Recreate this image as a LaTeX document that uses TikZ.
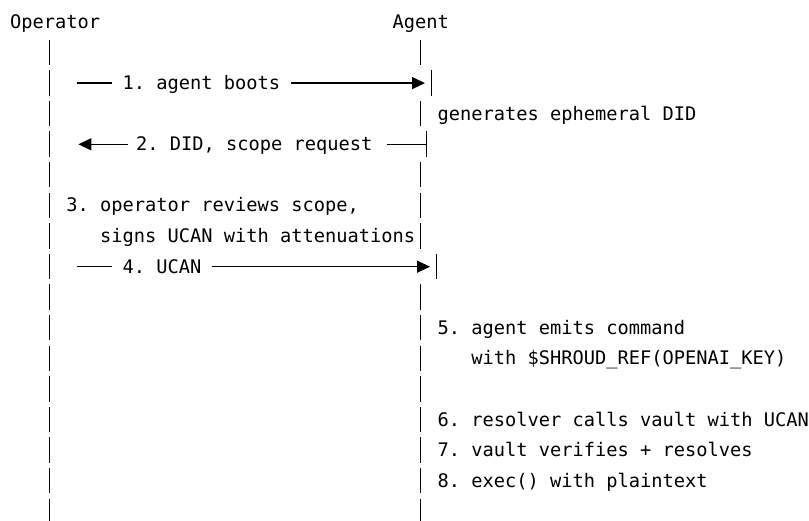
\documentclass[tikz,border=0pt]{standalone}
\usepackage{fontspec}
\newfontfamily\monofont{DejaVu Sans Mono}
\usetikzlibrary{arrows.meta}
\frenchspacing
\begin{document}
\begin{tikzpicture}[x=1pt,y=-1pt,
  lbl/.style={font=\monofont\fontsize{18.69}{22}\selectfont\frenchspacing, anchor=base west, inner sep=0pt, text=black},
  pipe/.style={line width=1.5pt, black},
  msgline/.style={line width=1.3pt, black},
  headR/.style={-{Triangle[length=13pt,width=12pt]}},
  headL/.style={{Triangle[length=13pt,width=12pt]}-}]
\useasboundingbox (0,0) rectangle (809,520);
% headers
\node[lbl] (op) at (9.9,28.3) {Operator};
\node[lbl] (ag) at (392.4,28.3) {Agent};
% lifelines (pipe characters)
\foreach \k in {1,...,16} {
  \pgfmathsetmacro\b{28.3+30.6*\k}
  \draw[pipe] (49.3,{\b-19.3}) -- (49.3,{\b+6});
}
\foreach \k in {1,3,5,6,7,9,10,11,12,13,14,15,16} {
  \pgfmathsetmacro\b{28.3+30.6*\k}
  \draw[pipe] (420.7,{\b-19.3}) -- (420.7,{\b+6});
}
\draw[pipe] (431.7,{89.5-19.3}) -- (431.7,{89.5+6});
\draw[pipe] (426.7,{150.7-19.3}) -- (426.7,{150.7+6});
\draw[pipe] (436.7,{273.1-19.3}) -- (436.7,{273.1+6});
% message 1
\node[lbl] (m1) at (122.4,89.5) {1. agent boots};
\coordinate (m1s) at (76.7,83.1);
\coordinate (m1a) at (112,83.1);
\coordinate (m1b) at (291,83.1);
\coordinate (m1e) at (425,83.1);
\draw[msgline] (m1s) -- (m1a);
\draw[msgline, headR] (m1b) -- (m1e);
% note
\node[lbl] (n1) at (437.4,120.1) {generates ephemeral DID};
% message 2
\node[lbl] (m2) at (136,150.7) {2. DID, scope request};
\coordinate (m2s) at (78.3,144.3);
\coordinate (m2a) at (128.3,144.3);
\coordinate (m2b) at (387,144.3);
\coordinate (m2e) at (425.5,144.3);
\draw[msgline, headL] (m2s) -- (m2a);
\draw[msgline] (m2b) -- (m2e);
% step 3
\node[lbl] (n3a) at (66.2,211.9) {3. operator reviews scope,};
\node[lbl] (n3b) at (99.9,242.5) {signs UCAN with attenuations};
% message 4
\node[lbl] (m4) at (122.4,273.1) {4. UCAN};
\coordinate (m4s) at (76.7,266.7);
\coordinate (m4a) at (112,266.7);
\coordinate (m4b) at (212.4,266.7);
\coordinate (m4e) at (430,266.7);
\draw[msgline] (m4s) -- (m4a);
\draw[msgline, headR] (m4b) -- (m4e);
% agent side notes
\node[lbl] (n5a) at (437.4,334.3) {5. agent emits command};
\node[lbl] (n5b) at (471.15,364.9) {with \$SHROUD\_REF(OPENAI\_KEY)};
\node[lbl] (n6) at (437.4,426.1) {6. resolver calls vault with UCAN};
\node[lbl] (n7) at (437.4,456.7) {7. vault verifies + resolves};
\node[lbl] (n8) at (437.4,487.3) {8. exec() with plaintext};
\end{tikzpicture}
\end{document}
